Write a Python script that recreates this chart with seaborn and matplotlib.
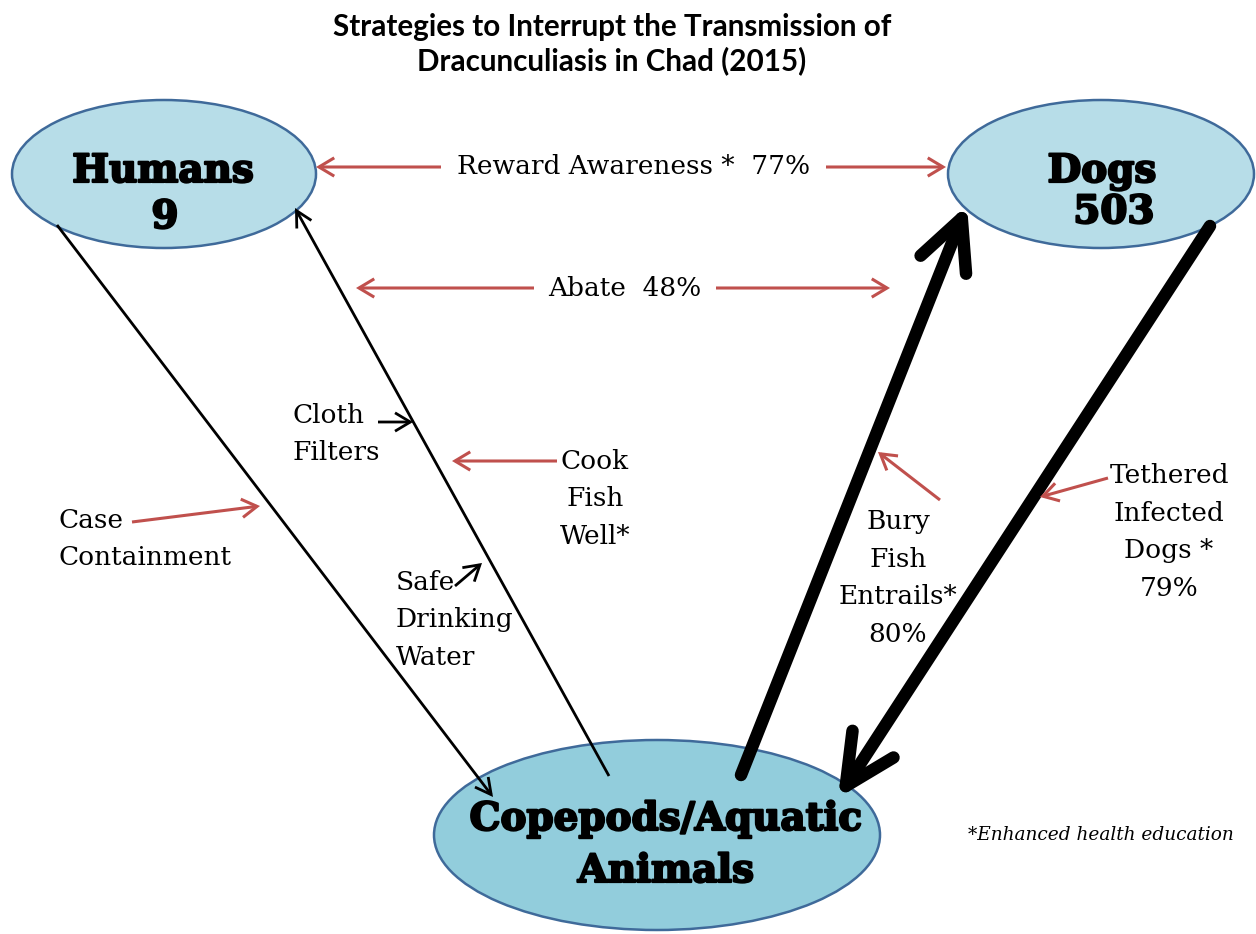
import matplotlib
matplotlib.use("Agg")
import matplotlib.pyplot as plt
from matplotlib.patches import Ellipse, FancyArrowPatch
import matplotlib.patheffects as pe
import seaborn as sns

# ---- data ----
title_lines = ["Strategies to Interrupt the Transmission of", "Dracunculiasis in Chad (2015)"]
node_names = ["Humans", "Dogs", "Copepods/Aquatic", "Animals"]
node_counts = ["9", "503"]
strategy_names = ["Reward Awareness *", "Abate", "Bury\nFish\nEntrails*", "Tethered\nInfected\nDogs *"]
strategy_pct = [77, 48, 80, 79]
other_strategies = ["Cloth\nFilters", "Cook\nFish\nWell*", "Case\nContainment", "Safe\nDrinking\nWater"]
footnote = "*Enhanced health education"

sns.set_theme(style="white")
plt.rcParams['font.family'] = ['DejaVu Serif']
plt.rcParams['text.color'] = 'black'

W, H = 1256, 934
fig = plt.figure(figsize=(W / 100, H / 100), dpi=100)
ax = fig.add_axes([0, 0, 1, 1])
ax.set_xlim(0, W)
ax.set_ylim(H, 0)
ax.axis("off")

RED = "#C0504D"
EDGE = "#3F6A9A"

# ---- nodes ----
nodes = [
    dict(c=(164, 174), w=304, h=148, fc="#B7DDE8"),
    dict(c=(1101, 174), w=306, h=148, fc="#B7DDE8"),
    dict(c=(657, 835), w=446, h=190, fc="#92CDDC"),
]
for n in nodes:
    ax.add_patch(Ellipse(n["c"], n["w"], n["h"], facecolor=n["fc"], edgecolor=EDGE, lw=1.8, zorder=1))

nodefont = dict(family="DejaVu Serif", weight="bold", fontsize=28, color="black", ha="center",
                va="baseline", zorder=5,
                path_effects=[pe.withStroke(linewidth=1.6, foreground="black")])
ax.text(163, 182, node_names[0], **nodefont)
ax.text(165, 228, node_counts[0], **nodefont)
ax.text(1102, 182, node_names[1], **nodefont)
ax.text(1114, 223, node_counts[1], **nodefont)
ax.text(666, 830, node_names[2], **nodefont)
ax.text(666, 882, node_names[3], **nodefont)

# ---- title ----
ax.text(612, 27, title_lines[0], family="Lato", weight="bold", fontsize=21.3, ha="center", va="center", color="black")
ax.text(612, 61, title_lines[1], family="Lato", weight="bold", fontsize=21.3, ha="center", va="center", color="black")


def arrow(p0, p1, color="black", lw=2.0, hl=0.5, hw=0.3, ms=30, z=3, cap="butt"):
    a = FancyArrowPatch(p0, p1, arrowstyle=f"->,head_length={hl},head_width={hw}",
                        mutation_scale=ms, color=color, lw=lw, shrinkA=0, shrinkB=0, zorder=z,
                        joinstyle="round" if cap == "round" else "miter", capstyle=cap)
    ax.add_patch(a)


# thin black transmission arrows
arrow((57, 225), (493, 797), lw=2.0, hl=0.38, hw=0.2, ms=30)
arrow((609, 776), (295, 208), lw=2.0, hl=0.38, hw=0.2, ms=30)
# thick black arrows
arrow((741, 775), (967, 205), lw=9, hl=0.45, hw=0.22, ms=80, cap="round")
arrow((1210, 226), (838, 798), lw=9, hl=0.45, hw=0.22, ms=80, cap="round")
# small black pointer arrows
arrow((378, 422), (413, 422), lw=2.0, hl=0.5, hw=0.3, ms=22)
arrow((455, 586), (482, 563), lw=2.0, hl=0.5, hw=0.3, ms=22)

# red strategy arrows
for p0, p1 in [((441, 167), (316, 167)), ((826, 167), (946, 167)),
               ((534, 288), (356, 288)), ((716, 288), (890, 288)),
               ((557, 461), (452, 461)), ((132, 522), (260, 506)),
               ((940, 500), (878, 452)), ((1108, 478), (1040, 497))]:
    arrow(p0, p1, color=RED, lw=2.2, hl=0.5, hw=0.3, ms=22)

# ---- labels ----
lab = dict(fontsize=19, color="black", linespacing=1.62, zorder=5)
ax.text(634, 167, f"{strategy_names[0]}  {strategy_pct[0]}%", ha="center", va="center", **lab)
ax.text(625, 288, f"{strategy_names[1]}  {strategy_pct[1]}%", ha="center", va="center", **lab)
ax.text(292, 434, other_strategies[0], ha="left", va="center", **lab)
ax.text(595, 499, other_strategies[1], ha="center", va="center", multialignment="center", **lab)
ax.text(58, 539, other_strategies[2], ha="left", va="center", **lab)
ax.text(396, 620, other_strategies[3], ha="left", va="center", **lab)
ax.text(898, 578, f"{strategy_names[2]}\n{strategy_pct[2]}%", ha="center", va="center", multialignment="center", **lab)
ax.text(1169, 532, f"{strategy_names[3]}\n{strategy_pct[3]}%", ha="center", va="center", multialignment="center", **lab)
ax.text(1101, 835, footnote, ha="center", va="center", fontsize=13.3, style="italic", color="black")

fig.savefig("out.png", dpi=100)
